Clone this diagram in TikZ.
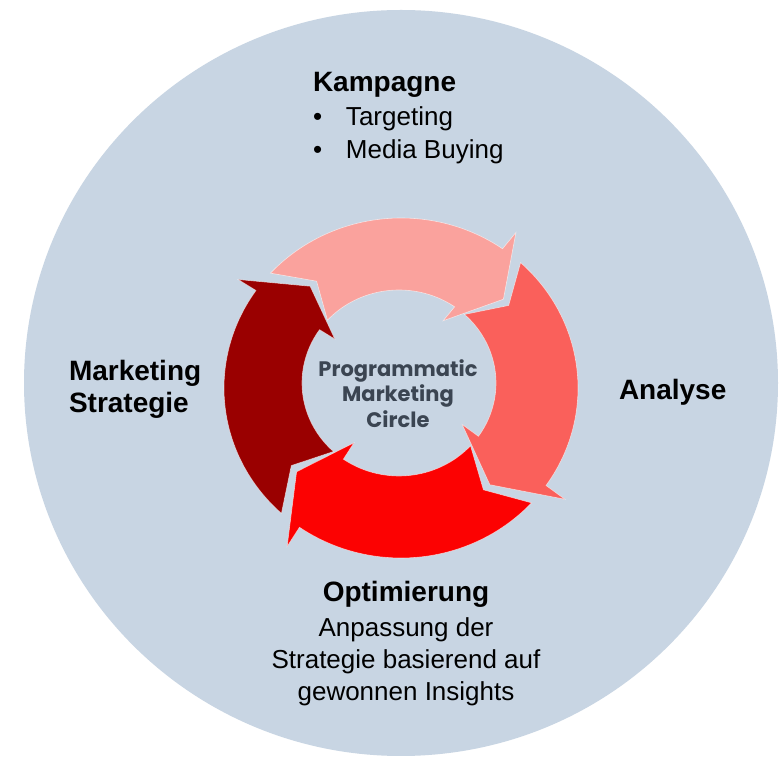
\documentclass[tikz,border=0pt]{standalone}
\usepackage{fontspec}
\setmainfont{Liberation Sans}
\newfontfamily\pfont{Poppins}
\definecolor{bgc}{RGB}{200,213,227}
\definecolor{apink}{RGB}{250,162,157}
\definecolor{asalmon}{RGB}{250,96,91}
\definecolor{ared}{RGB}{252,2,2}
\definecolor{adark}{RGB}{154,0,0}
\definecolor{ctext}{RGB}{59,69,82}
\def\cox{401}\def\coy{370}\def\rox{177}\def\roy{170}
\def\cix{399}\def\ciy{375}\def\rix{97}\def\riy{93}
\newcommand\ringarrow[3]{%
  \pgfmathsetmacro\tA{#2}\pgfmathsetmacro\hB{#3}%
  \pgfmathsetmacro\tipA{#3-14}\pgfmathsetmacro\notA{#2-10}%
  \fill[#1, draw=white, draw opacity=0.6, line width=0.6pt, line join=miter]
   plot[domain=\tA:\hB, samples=60] ({\cox+\rox*cos(\x)},{\coy+\roy*sin(\x)})
   -- ({-0.28*(\cix+\rix*cos(\hB))+1.28*(\cox+\rox*cos(\hB))},{-0.28*(\ciy+\riy*sin(\hB))+1.28*(\coy+\roy*sin(\hB))})
   -- ({0.5*(\cix+\rix*cos(\tipA))+0.5*(\cox+\rox*cos(\tipA))},{0.5*(\ciy+\riy*sin(\tipA))+0.5*(\coy+\roy*sin(\tipA))})
   -- ({1.24*(\cix+\rix*cos(\hB))-0.24*(\cox+\rox*cos(\hB))},{1.24*(\ciy+\riy*sin(\hB))-0.24*(\coy+\roy*sin(\hB))})
   -- plot[domain=\hB:\tA, samples=60] ({\cix+\rix*cos(\x)},{\ciy+\riy*sin(\x)})
   -- ({0.5*(\cix+\rix*cos(\notA))+0.5*(\cox+\rox*cos(\notA))},{0.5*(\ciy+\riy*sin(\notA))+0.5*(\coy+\roy*sin(\notA))})
   -- cycle;
}
\tikzset{
  lbl/.style={inner sep=0pt, outer sep=0pt, text=black},
  head/.style={lbl, font=\fontsize{28}{32}\selectfont\bfseries},
  body/.style={lbl, font=\fontsize{26}{31}\selectfont},
  ctr/.style={inner sep=0pt, outer sep=0pt, text=ctext, font=\pfont\fontsize{21}{25}\selectfont\bfseries, anchor=base}
}
\begin{document}
\begin{tikzpicture}[x=1pt,y=1pt]
\useasboundingbox (0,0) rectangle (780,758);
\fill[white] (0,0) rectangle (780,758);
\fill[bgc] (401,375) ellipse [x radius=377pt, y radius=373pt];
\ringarrow{apink}{137.5}{55}
\ringarrow{asalmon}{47.5}{-35}
\ringarrow{ared}{-42.5}{-125}
\ringarrow{adark}{-132.5}{-215}
\node[head, anchor=base west] (kam) at (313,666) {Kampagne};
\node[body, anchor=base west] (tar) at (313,632) {\makebox[33pt][l]{•}Targeting};
\node[body, anchor=base west] (med) at (313,599) {\makebox[33pt][l]{•}Media Buying};
\node[head, anchor=base west] (ms1) at (69,377) {Marketing};
\node[head, anchor=base west] (ms2) at (69,345) {Strategie};
\node[head, anchor=base west] (ana) at (619,358) {Analyse};
\node[head, anchor=base] (opt) at (406,156) {Optimierung};
\node[body, anchor=base] (an1) at (406,121) {Anpassung der};
\node[body, anchor=base] (an2) at (406,89) {Strategie basierend auf};
\node[body, anchor=base] (an3) at (406,57) {gewonnen Insights};
\node[ctr] (pc1) at (398,381) {Programmatic};
\node[ctr] (pc2) at (398,356) {Marketing};
\node[ctr] (pc3) at (398,330) {Circle};
\end{tikzpicture}
\end{document}
